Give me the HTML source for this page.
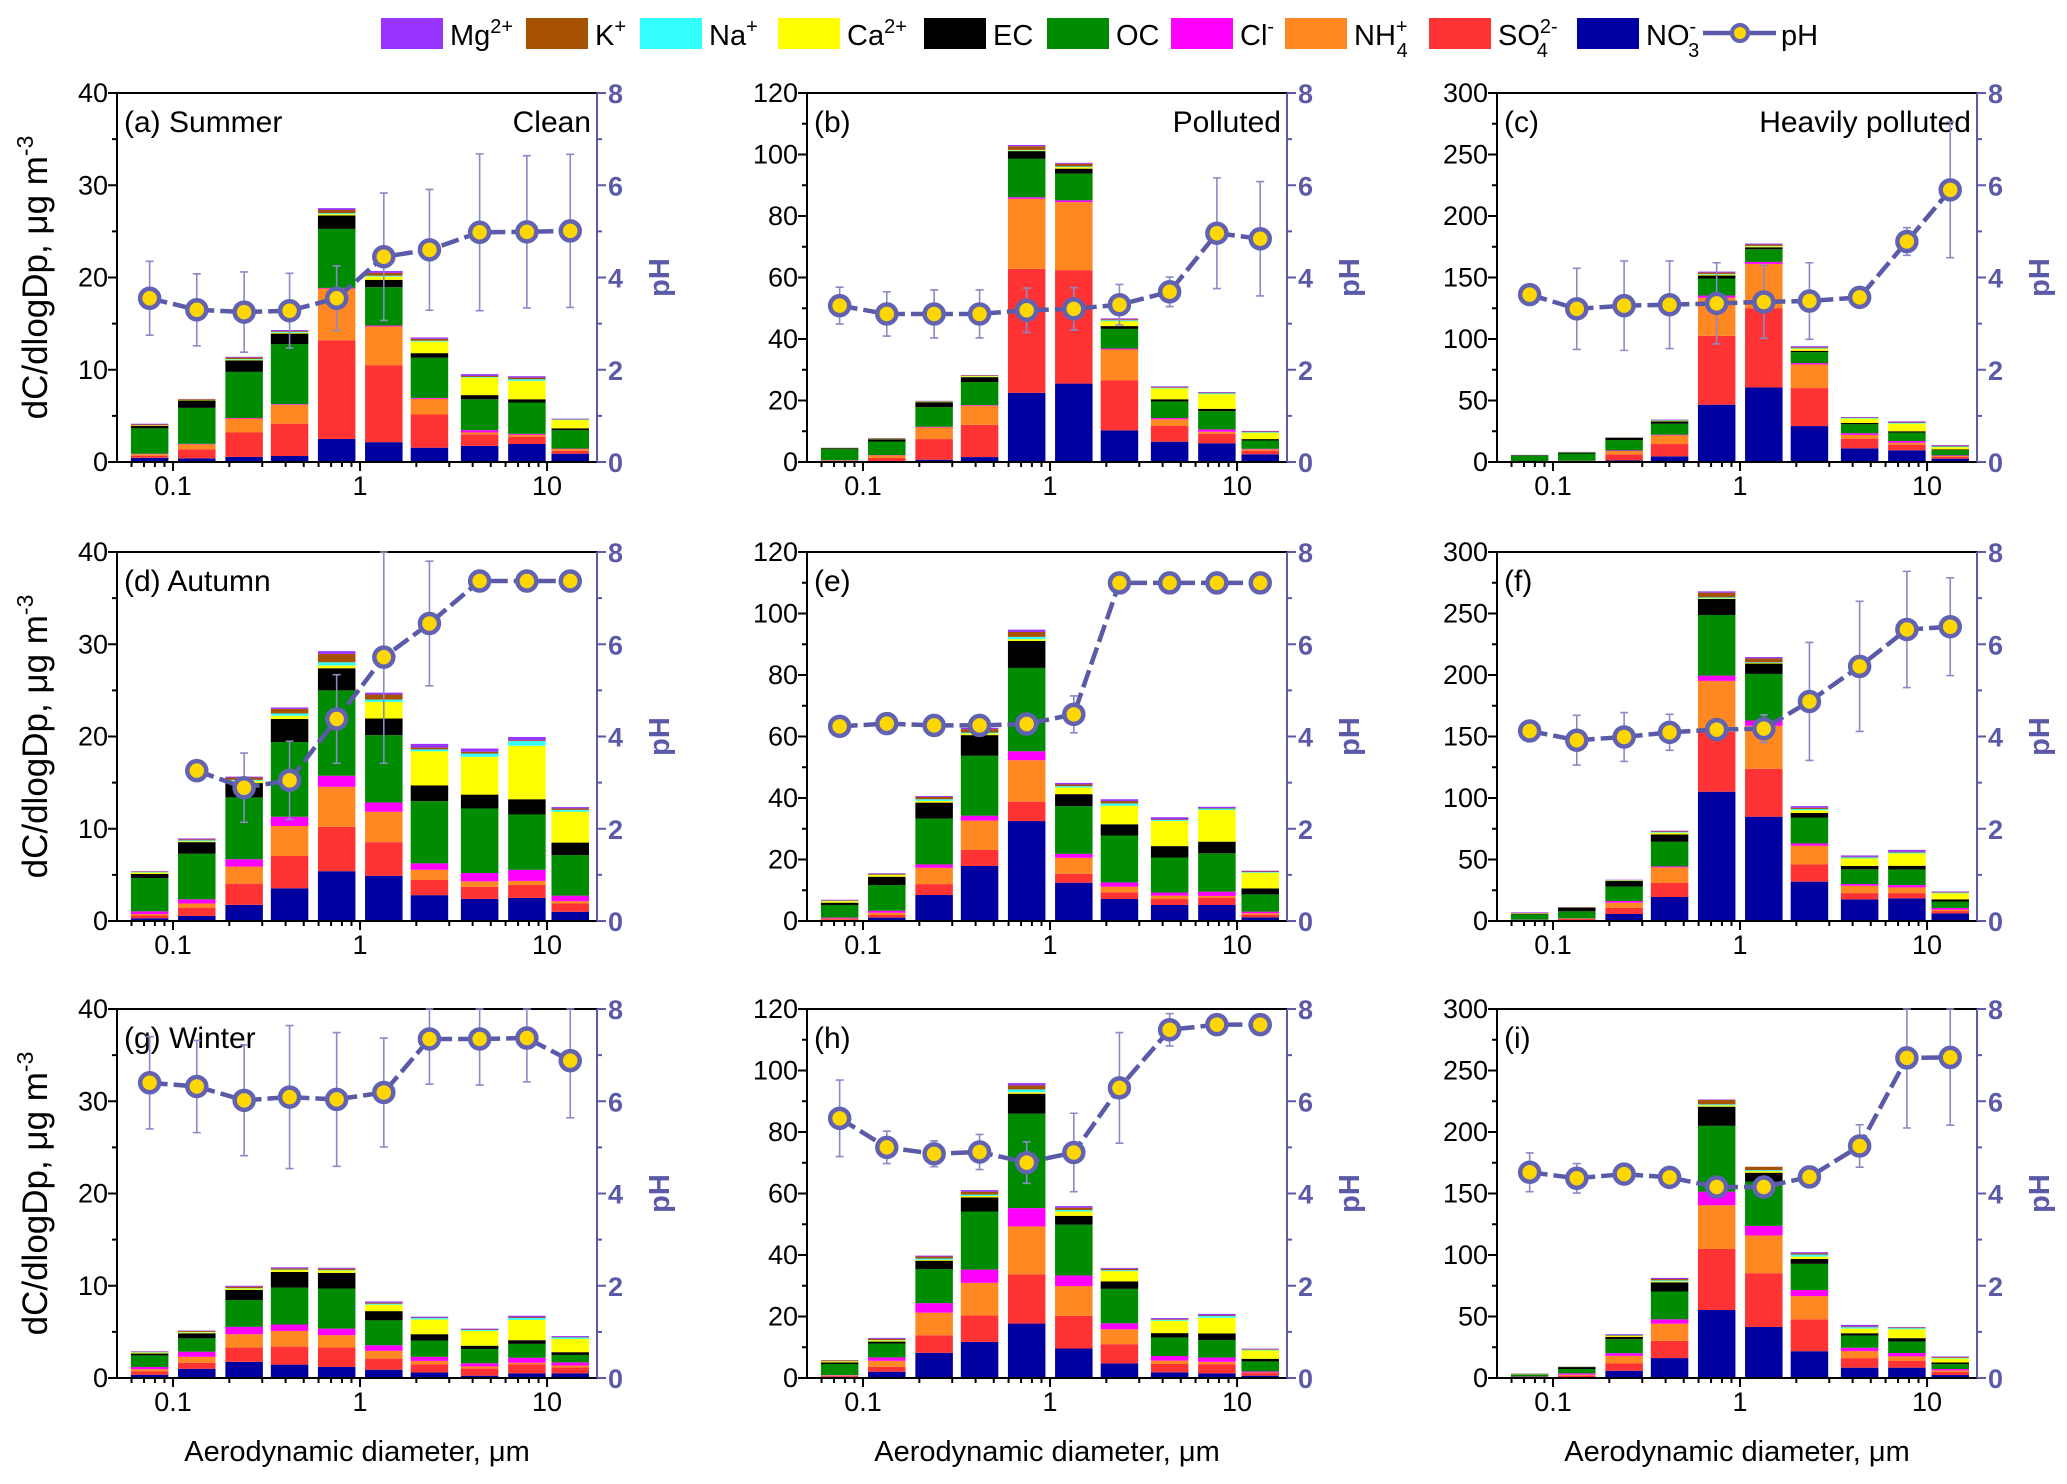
<!DOCTYPE html>
<html><head><meta charset="utf-8"><style>
html,body{margin:0;padding:0;background:#fff;}
svg{display:block;font-family:"Liberation Sans",Arial,sans-serif;}
</style></head><body>
<svg id="fig" width="2067" height="1484" viewBox="0 0 2067 1484" xmlns="http://www.w3.org/2000/svg">
<g id="legend"></g>
<g id="panels"></g>
</svg>
<script>
// ---- shared data ----
const diameters = [0.075,0.134,0.24,0.42,0.75,1.34,2.35,4.36,7.8,13.3];
const components = ["NO3","SO4","NH4","Cl","OC","EC","Ca","Na","K","Mg"];
const compColors = ["#0000a0","#ff3333","#ff8822","#ff00ff","#008c00","#000000","#ffff00","#33ffff","#a65200","#9933ff"];
const yMaxByCol = [40,120,300];
const yStepByCol = [10,20,50];
const xTickValues = [0.1,1,10];
const xTickLabels = ["0.1","1","10"];
const pHTicks = [0,2,4,6,8];

// ---- panel (a) ----
const a_NO3=[0.45,0.4,0.55,0.65,2.5,2.15,1.55,1.75,1.95,0.9];
const a_SO4=[0.2,0.97,2.65,3.5,10.7,8.35,3.6,1.25,0.8,0.3];
const a_NH4=[0.2,0.55,1.5,2.05,5.6,4.2,1.7,0.2,0.2,0.2];
const a_Cl=[0.05,0.05,0.07,0.07,0.07,0.1,0.1,0.25,0.1,0.05];
const a_OC=[2.75,3.9,5.0,6.5,6.4,4.15,4.35,3.35,3.4,2.0];
const a_EC=[0.25,0.8,1.25,1.15,1.45,0.8,0.5,0.45,0.35,0.2];
const a_Ca=[0.05,0.05,0.08,0.1,0.15,0.35,1.25,1.9,2.0,0.9];
const a_Na=[0.02,0.02,0.07,0.1,0.1,0.1,0.1,0.07,0.17,0.05];
const a_K=[0.1,0.08,0.15,0.08,0.35,0.3,0.2,0.1,0.18,0.05];
const a_Mg=[0.08,0.02,0.08,0.1,0.2,0.2,0.15,0.2,0.15,0.05];
const a_pH=[3.55,3.3,3.25,3.28,3.55,4.45,4.6,4.98,4.99,5.01];
const a_err=[0.8,0.78,0.87,0.81,0.7,1.38,1.31,1.7,1.65,1.66];
// ---- panel (b) ----
const b_NO3=[0.3,0.3,0.75,1.6,22.5,25.5,10.3,6.6,6.1,2.5];
const b_SO4=[0.1,1.1,6.7,10.5,40.3,36.9,16.2,5.1,3.1,1.1];
const b_NH4=[0.1,0.75,3.8,6.2,22.8,22.1,10.1,2.2,0.65,0.5];
const b_Cl=[0.1,0.1,0.2,0.2,0.5,0.6,0.3,0.4,0.75,0.2];
const b_OC=[3.6,4.4,6.4,7.5,12.5,8.7,6.4,5.4,5.95,2.7];
const b_EC=[0.3,0.75,1.6,1.6,2.5,1.6,0.9,0.7,0.75,0.45];
const b_Ca=[0.05,0.05,0.1,0.3,0.2,0.5,1.6,3.5,4.75,2.05];
const b_Na=[0.02,0.05,0.1,0.1,0.2,0.2,0.3,0.2,0.3,0.2];
const b_K=[0.05,0.2,0.2,0.2,1.2,0.9,0.3,0.2,0.2,0.2];
const b_Mg=[0.03,0.05,0.05,0.1,0.4,0.3,0.3,0.3,0.2,0.2];
const b_pH=[3.39,3.21,3.21,3.21,3.29,3.32,3.41,3.69,4.96,4.84];
const b_err=[0.4,0.48,0.52,0.52,0.48,0.46,0.44,0.32,1.2,1.24];
// ---- panel (c) ----
const c_NO3=[0.3,0.4,1.4,4.6,46.6,60.6,29.2,11.1,9.5,2.7];
const c_SO4=[0.2,0.3,4.8,10,56,64.5,30.9,7.9,4.6,1.4];
const c_NH4=[0.1,0.2,2.7,7.1,30.9,36,19.2,3,1.6,0.8];
const c_Cl=[0.1,0.1,0.5,0.5,1.9,1.6,1.1,1.4,1.4,0.5];
const c_OC=[4.4,5.9,8.4,8.9,13.8,10.3,8.9,7.3,6.8,4.3];
const c_EC=[0.5,0.8,1.9,1.9,2.4,1.6,1.1,1.1,1.1,0.5];
const c_Ca=[0.05,0.2,0.2,0.3,0.8,0.8,1.6,3.5,6.2,1.9];
const c_Na=[0.05,0.1,0.1,0.5,0.5,0.3,0.5,0.5,0.5,0.5];
const c_K=[0.05,0.1,0.1,0.4,1.1,1.1,0.8,0.3,0.5,0.6];
const c_Mg=[0.05,0.1,0.2,0.3,0.8,0.8,0.8,0.5,0.8,0.6];
const c_pH=[3.63,3.32,3.39,3.41,3.44,3.47,3.49,3.57,4.78,5.9];
const c_err=[0.05,0.88,0.97,0.95,0.88,0.79,0.83,0.1,0.3,1.47];
// ---- panel (d) ----
const d_NO3=[0.3,0.55,1.75,3.55,5.4,4.9,2.8,2.4,2.5,1.0];
const d_SO4=[0.3,0.9,2.3,3.5,4.8,3.65,1.65,1.3,1.4,0.9];
const d_NH4=[0.15,0.45,1.85,3.25,4.35,3.3,1.1,0.6,0.45,0.25];
const d_Cl=[0.3,0.45,0.8,1.0,1.2,1.0,0.7,0.9,1.2,0.6];
const d_OC=[3.6,4.95,6.7,8.1,9.25,7.3,6.75,7.0,6.0,4.4];
const d_EC=[0.45,1.25,1.55,2.5,2.4,1.8,1.7,1.5,1.65,1.35];
const d_Ca=[0.15,0.1,0.25,0.35,0.3,1.8,3.7,4.1,5.8,3.35];
const d_Na=[0.05,0.1,0.1,0.25,0.35,0.25,0.2,0.35,0.5,0.2];
const d_K=[0.05,0.1,0.25,0.5,0.9,0.55,0.2,0.2,0.1,0.15];
const d_Mg=[0.05,0.1,0.1,0.15,0.3,0.2,0.4,0.35,0.35,0.15];
const d_pH=[null,3.26,2.89,3.05,4.38,5.72,6.45,7.37,7.37,7.37];
const d_err=[0,0,0.75,0.85,0.96,2.3,1.35,0.05,0.05,0.05];
// ---- panel (e) ----
const e_NO3=[0.3,1.1,8.45,17.9,32.5,12.45,7.15,5.2,5.2,1.2];
const e_SO4=[0.3,0.85,3.55,5.2,6.3,2.9,2.15,1.95,2.4,0.75];
const e_NH4=[0.2,0.75,5.3,9.55,13.5,5.2,1.85,1.1,0.55,0.55];
const e_Cl=[0.3,0.65,1.1,1.6,2.9,1.3,1.4,1.0,1.4,0.55];
const e_OC=[4.1,8.35,14.9,19.5,27.1,15.5,15.2,11.4,12.45,5.6];
const e_EC=[0.75,2.7,5.2,6.7,8.8,3.9,3.7,3.7,3.8,1.95];
const e_Ca=[0.5,0.55,0.55,0.55,0.55,2.15,6.05,8.2,10.3,5.1];
const e_Na=[0.1,0.1,0.55,0.3,0.75,0.45,0.75,0.3,0.45,0.2];
const e_K=[0.2,0.3,0.75,1.1,1.6,0.55,0.75,0.2,0.2,0.2];
const e_Mg=[0.15,0.2,0.3,0.4,0.75,0.5,0.6,0.7,0.4,0.25];
const e_pH=[4.22,4.28,4.24,4.24,4.27,4.48,7.33,7.33,7.33,7.33];
const e_err=[0.05,0.05,0.05,0.05,0.05,0.4,0.05,0.05,0.05,0.05];
// ---- panel (f) ----
const f_NO3=[0.3,0.4,5.7,19.5,105.1,84.8,32,17.6,18.4,6.2];
const f_SO4=[0.3,1.2,5.1,11.4,48.7,39,14,5.1,4.3,1.9];
const f_NH4=[0.3,0.3,4.1,12.7,41.4,34.9,15.2,6,4.6,1.1];
const f_Cl=[0.2,0.2,1.4,0.8,4.3,4.3,1.9,1.4,1.9,1.4];
const f_OC=[4.3,5.8,11.6,20,49.3,37.9,21,11.9,12.7,5.1];
const f_EC=[0.3,3.0,4.6,6,13,8.4,3.8,2.7,3,1.9];
const f_Ca=[0.3,0.1,0.3,1.4,0.5,0.5,2.2,6.2,10,4.9];
const f_Na=[0.1,0.1,0.3,0.5,0.8,0.5,1,0.8,0.8,0.5];
const f_K=[0.5,0.2,0.3,0.5,3.8,3.2,1,0.5,0.5,0.5];
const f_Mg=[0.5,0.1,0.2,0.6,1.1,1.1,1.3,1.1,1.6,0.5];
const f_pH=[4.12,3.92,3.99,4.09,4.15,4.17,4.76,5.52,6.32,6.38];
const f_err=[0.2,0.54,0.53,0.39,0.2,0.3,1.28,1.41,1.26,1.06];
// ---- panel (g) ----
const g_NO3=[0.35,1.0,1.75,1.45,1.2,0.9,0.6,0.25,0.5,0.5];
const g_SO4=[0.35,0.65,1.55,1.95,2.1,1.2,0.9,0.8,1.0,0.65];
const g_NH4=[0.25,0.65,1.45,1.7,1.35,0.85,0.35,0.2,0.15,0.2];
const g_Cl=[0.25,0.55,0.8,0.7,0.7,0.6,0.45,0.35,0.55,0.35];
const g_OC=[1.25,1.45,2.9,4.0,4.35,2.7,1.75,1.55,1.5,0.8];
const g_EC=[0.2,0.55,1.1,1.7,1.7,1.0,0.7,0.35,0.4,0.3];
const g_Ca=[0.1,0.1,0.15,0.2,0.25,0.7,1.6,1.6,2.2,1.45];
const g_Na=[0.05,0.05,0.05,0.05,0.05,0.1,0.15,0.1,0.2,0.15];
const g_K=[0.05,0.1,0.15,0.15,0.15,0.1,0.05,0.05,0.1,0.05];
const g_Mg=[0.05,0.05,0.1,0.1,0.1,0.15,0.1,0.1,0.15,0.1];
const g_pH=[6.4,6.32,6.02,6.09,6.04,6.19,7.35,7.35,7.37,6.88];
const g_err=[1.0,1.0,1.2,1.55,1.45,1.18,0.98,1.0,0.95,1.24];
// ---- panel (h) ----
const h_NO3=[0.4,2.05,8.2,11.75,17.7,9.6,4.75,1.85,1.5,0.75];
const h_SO4=[0.3,1.6,5.7,8.6,16.0,10.6,6.25,2.7,3.0,0.85];
const h_NH4=[0.15,1.95,7.35,10.6,15.6,9.7,4.85,1.1,0.75,0.2];
const h_Cl=[0.1,1.1,3.1,4.3,5.95,3.45,1.95,1.5,1.4,0.35];
const h_OC=[3.6,4.5,11.1,18.9,30.7,16.5,11.2,6.05,5.7,3.25];
const h_EC=[0.5,0.65,2.7,4.6,6.5,2.9,2.4,1.4,2.15,0.85];
const h_Ca=[0.3,0.4,0.3,0.45,0.5,1.4,3.35,4.0,5.1,2.7];
const h_Na=[0.1,0.1,0.4,0.45,0.9,0.5,0.3,0.3,0.55,0.2];
const h_K=[0.3,0.4,0.65,0.95,1.3,0.75,0.45,0.2,0.2,0.2];
const h_Mg=[0.05,0.3,0.3,0.5,0.75,0.5,0.3,0.4,0.5,0.2];
const h_pH=[5.63,5.0,4.86,4.9,4.67,4.89,6.29,7.55,7.66,7.66];
const h_err=[0.83,0.35,0.28,0.38,0.45,0.85,1.2,0.35,0.05,0.05];
// ---- panel (i) ----
const i_NO3=[0.3,0.5,5.9,16.2,55.3,41.5,21.8,8.4,8.4,2.4];
const i_SO4=[0.3,1.4,5.9,14,49.6,43.7,25.9,7.8,5.7,2.7];
const i_NH4=[0.3,0.8,6.2,14,35.6,30.7,18.9,5.7,3.5,1.1];
const i_Cl=[0.3,1.1,2.2,3.5,11,7.8,4.9,2.7,2.7,1.1];
const i_OC=[1.5,3.5,11.3,22.6,53.5,35.9,21.3,9.9,9.4,4];
const i_EC=[0.3,1.6,1.9,7.5,15.6,7.3,4,1.9,2.7,1.3];
const i_Ca=[0.3,0.2,0.8,0.8,1.1,1.3,1.9,3.8,7.3,3.2];
const i_Na=[0.2,0.1,0.3,0.8,0.8,0.8,1.6,1.1,0.8,0.5];
const i_K=[0.2,0.1,0.5,1.1,3.5,2.7,1,0.5,0.5,0.6];
const i_Mg=[0.1,0.1,0.6,0.9,0.4,0.1,1,1.4,0.4,0.6];
const i_pH=[4.46,4.33,4.42,4.35,4.14,4.14,4.36,5.03,6.94,6.95];
const i_err=[0.42,0.32,0.1,0.05,0.05,0.05,0.05,0.46,1.52,1.47];

const panelKeys=["a","b","c","d","e","f","g","h","i"];
const panelTitles=["(a) Summer","(b)","(c)","(d) Autumn","(e)","(f)","(g) Winter","(h)","(i)"];
const panelRightTitles=["Clean","Polluted","Heavily polluted","","","","","",""];
const panelStacks={
 a:[a_NO3,a_SO4,a_NH4,a_Cl,a_OC,a_EC,a_Ca,a_Na,a_K,a_Mg],
 b:[b_NO3,b_SO4,b_NH4,b_Cl,b_OC,b_EC,b_Ca,b_Na,b_K,b_Mg],
 c:[c_NO3,c_SO4,c_NH4,c_Cl,c_OC,c_EC,c_Ca,c_Na,c_K,c_Mg],
 d:[d_NO3,d_SO4,d_NH4,d_Cl,d_OC,d_EC,d_Ca,d_Na,d_K,d_Mg],
 e:[e_NO3,e_SO4,e_NH4,e_Cl,e_OC,e_EC,e_Ca,e_Na,e_K,e_Mg],
 f:[f_NO3,f_SO4,f_NH4,f_Cl,f_OC,f_EC,f_Ca,f_Na,f_K,f_Mg],
 g:[g_NO3,g_SO4,g_NH4,g_Cl,g_OC,g_EC,g_Ca,g_Na,g_K,g_Mg],
 h:[h_NO3,h_SO4,h_NH4,h_Cl,h_OC,h_EC,h_Ca,h_Na,h_K,h_Mg],
 i:[i_NO3,i_SO4,i_NH4,i_Cl,i_OC,i_EC,i_Ca,i_Na,i_K,i_Mg]};
const panelPH={a:a_pH,b:b_pH,c:c_pH,d:d_pH,e:e_pH,f:f_pH,g:g_pH,h:h_pH,i:i_pH};
const panelErr={a:a_err,b:b_err,c:c_err,d:d_err,e:e_err,f:f_err,g:g_err,h:h_err,i:i_err};

// ---- layout ----
const NS="http://www.w3.org/2000/svg";
const colX=[117,807,1497], rowY=[93,552,1009], PW=480, PH=369;
const LOGMIN=-1.2995, LOGMAX=1.267;
const PURPLE="#5a5aa8";
function el(tag,attrs,parent){const e=document.createElementNS(NS,tag);for(const k in attrs)e.setAttribute(k,attrs[k]);parent.appendChild(e);return e;}

const panels=document.getElementById('panels');
panelKeys.forEach((key,idx)=>{
  const col=idx%3,row=Math.floor(idx/3);
  const x0=colX[col],y0=rowY[row],yb=y0+PH;
  const ymax=yMaxByCol[col],step=yStepByCol[col];
  const xs=v=>x0+(Math.log10(v)-LOGMIN)/(LOGMAX-LOGMIN)*PW;
  const ys=v=>yb-v/ymax*PH;
  const yp=v=>yb-v/8*PH;
  const g=el('g',{},panels);
  
  
  const stacks=panelStacks[key];
  for(let b=0;b<diameters.length;b++){
    let cum=0;const cx=xs(diameters[b]);
    const bg=el('g',{},g);
    
    
    for(let c=0;c<components.length;c++){
      const v=stacks[c][b];const yT=ys(cum+v),yB=ys(cum);cum+=v;
      const r=el('rect',{x:cx-18.75,y:yT,width:37.5,height:Math.max(0,yB-yT),fill:compColors[c]},bg);
      
      
    }
  }
  const ax=el('g',{stroke:'#000','stroke-width':2,fill:'none'},g);
  
  
  el('line',{x1:x0,y1:y0,x2:x0+PW,y2:y0},ax);
  el('line',{x1:x0,y1:y0,x2:x0,y2:yb},ax);
  el('line',{x1:x0,y1:yb,x2:x0+PW,y2:yb},ax);
  el('line',{x1:x0+PW,y1:y0,x2:x0+PW,y2:yb,stroke:PURPLE},ax);
  for(let d=-2;d<=1;d++)for(let m=1;m<=9;m++){
    const v=m*Math.pow(10,d);const lv=Math.log10(v);
    if(lv<LOGMIN||lv>LOGMAX)continue;
    const x=xs(v);el('line',{x1:x,y1:yb,x2:x,y2:yb+(m===1?9:5)},ax);
  }
  xTickValues.forEach((v,k)=>{
    const t=el('text',{x:xs(v),y:yb+33,'font-size':27,'text-anchor':'middle',fill:'#000'},g);
    t.textContent=xTickLabels[k];
    
    
  });
  for(let v=0;v<=ymax+1e-9;v+=step/2){
    const maj=Math.abs(v/step-Math.round(v/step))<1e-6;
    el('line',{x1:x0,y1:ys(v),x2:x0-(maj?9:5),y2:ys(v)},ax);
    if(maj){const t=el('text',{x:x0-9,y:ys(v)+9,'font-size':27,'text-anchor':'end',fill:'#000'},g);t.textContent=String(v);
      }
  }
  for(let v=0;v<=8;v++){
    el('line',{x1:x0+PW,y1:yp(v),x2:x0+PW+(v%2===0?9:5),y2:yp(v),stroke:PURPLE},ax);
  }
  pHTicks.forEach(v=>{const t=el('text',{x:x0+PW+11,y:yp(v)+10,'font-size':27,'font-weight':'bold',fill:PURPLE},g);t.textContent=String(v);
    });
  const rt=el('text',{x:0,y:0,'font-size':29,'font-weight':'bold',fill:PURPLE,'text-anchor':'middle',transform:`translate(${x0+PW+72},${y0+PH/2}) rotate(-90)`},g);
  rt.textContent='pH';
  if(col===0){
    const lt=el('text',{x:0,y:0,'font-size':35,'text-anchor':'middle',fill:'#000',transform:`translate(47,${y0+PH/2}) rotate(-90)`},g);
    lt.innerHTML='dC/dlogDp, μg m<tspan font-size="23" dy="-14">-3</tspan>';
    
  }
  if(row===2){
    const xt=el('text',{x:x0+PW/2,y:yb+83,'font-size':29,'text-anchor':'middle',fill:'#000'},g);
    xt.textContent='Aerodynamic diameter, μm';
    
  }
  const pl=el('text',{x:x0+7,y:y0+39,'font-size':30,fill:'#000'},g);
  pl.textContent=panelTitles[idx];
  if(panelRightTitles[idx]){const pr=el('text',{x:x0+PW-6,y:y0+39,'font-size':30,'text-anchor':'end',fill:'#000'},g);
    pr.textContent=panelRightTitles[idx];}
  const ph=panelPH[key],er=panelErr[key];
  const sg=el('g',{},g);
  
  
  for(let b=0;b<ph.length;b++){if(ph[b]==null||!er[b])continue;
    const x=xs(diameters[b]);const hi=Math.min(8,ph[b]+er[b]),lo=Math.max(0,ph[b]-er[b]);
    const eb=el('path',{d:`M${x},${yp(hi)}V${yp(lo)}M${x-4},${yp(hi)}H${x+4}M${x-4},${yp(lo)}H${x+4}`,stroke:'#8a8ac8','stroke-width':1.6,fill:'none'},sg);
    }
  let pts=[];for(let b=0;b<ph.length;b++)if(ph[b]!=null)pts.push([xs(diameters[b]),yp(ph[b])]);
  const ln=el('polyline',{points:pts.map(p=>p.join(',')).join(' '),stroke:PURPLE,'stroke-width':4.5,fill:'none','stroke-dasharray':'18 6'},sg);
  
  pts.forEach(p=>{const c=el('circle',{cx:p[0],cy:p[1],r:9.5,fill:'#ffd700',stroke:'#6262b2','stroke-width':4.5},sg);
    });
});

// ---- legend ----
const legendLabels=['Mg<tspan font-size="20" dy="-12">2+</tspan>','K<tspan font-size="20" dy="-12">+</tspan>','Na<tspan font-size="20" dy="-12">+</tspan>','Ca<tspan font-size="20" dy="-12">2+</tspan>','EC','OC','Cl<tspan font-size="20" dy="-12">-</tspan>','NH<tspan font-size="20" dy="-12">+</tspan><tspan font-size="20" dx="-11" dy="24">4</tspan>','SO<tspan font-size="20" dy="-12">2-</tspan><tspan font-size="20" dx="-21" dy="24">4</tspan>','NO<tspan font-size="20" dy="-12">-</tspan><tspan font-size="20" dx="-8" dy="24">3</tspan>'];
const legendColorIdx=[9,8,7,6,5,4,3,2,1,0];
const legendX=[381,526,640,778,924,1047,1171,1285,1429,1577];
const lg=document.getElementById('legend');
legendX.forEach((x,k)=>{
  const it=el('g',{},lg);
  
  
  el('rect',{x:x,y:18,width:62,height:31,fill:compColors[legendColorIdx[k]]},it);
  const t=el('text',{x:x+69,y:45,'font-size':29,fill:'#000'},it);t.innerHTML=legendLabels[k];
});
const pe=el('g',{},lg);


el('line',{x1:1703,y1:33,x2:1776,y2:33,stroke:PURPLE,'stroke-width':4.5},pe);
el('circle',{cx:1740,cy:33,r:8,fill:'#ffd700',stroke:'#6262b2','stroke-width':4},pe);
const pt=el('text',{x:1781,y:45,'font-size':29,fill:'#000'},pe);pt.textContent='pH';
</script>
</body></html>
